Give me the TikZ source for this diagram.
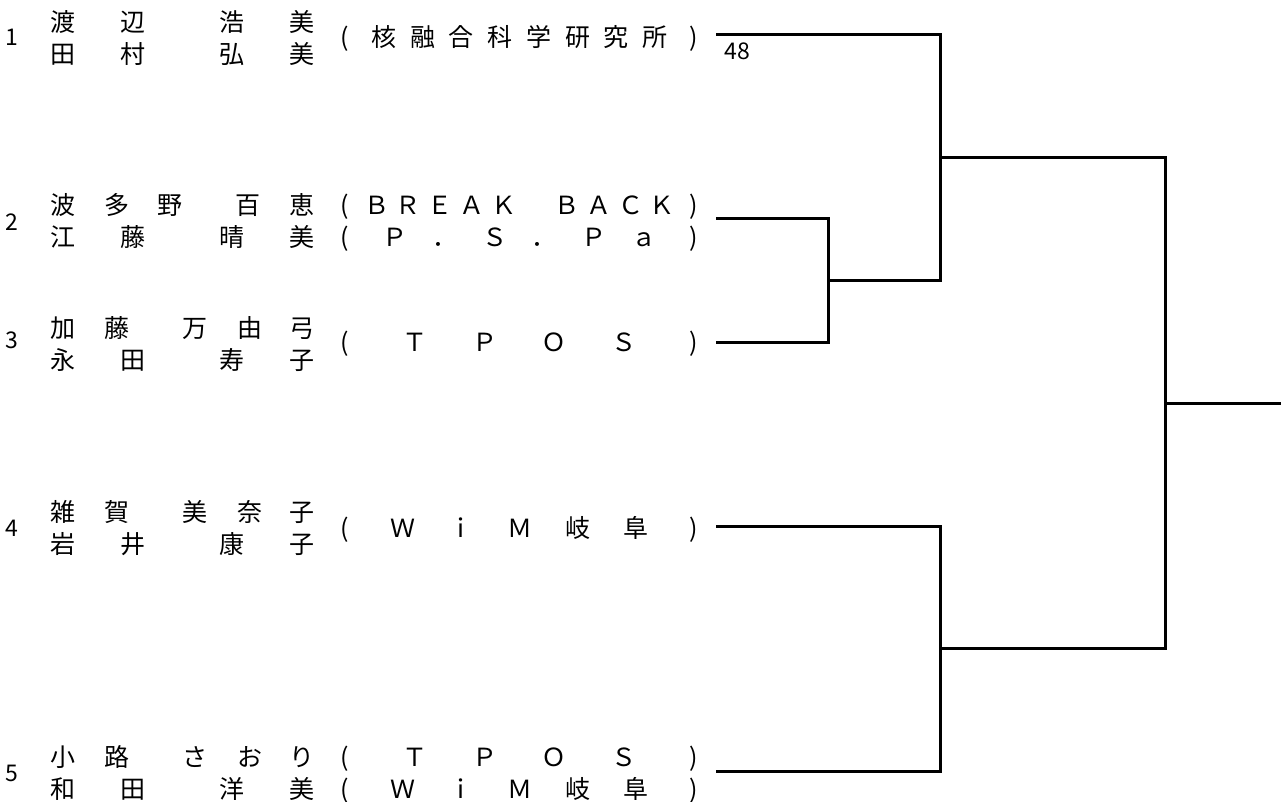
\documentclass[tikz,border=0pt]{standalone}
\usepackage{fontspec}
\setmainfont{Noto Sans CJK JP}
\newcommand\sheetfont{\fontsize{25}{25}\selectfont}
\newcommand\numfont{\fontsize{23}{23}\selectfont}
\def\orgblank{}
\def\lp{(}
\def\rp{)}
% one line of a name, each character at its own x
\newcommand\nameline[3]{%
  \foreach \ch/\x [count=\i] in {#3}
    \node[glyph] (#1-\i) at (\x,#2) {\ch};}
% one line of a club, spread evenly between the brackets
\newcommand\orgline[3]{%
  \foreach \ch [count=\i] in {#3} {\xdef\orgn{\i}}%
  \foreach \ch [count=\i] in {#3} {%
    \ifx\ch\orgblank\else
      \node[glyph] (#1-\i) at ({345+(\i-1)*349/(\orgn-1)},#2) {\ch};
    \fi}}

\begin{document}
\begin{tikzpicture}[x=1pt,y=-1pt,
    glyph/.style={inner sep=0pt,anchor=base,yshift=-9.5pt,font=\sheetfont},
    num/.style={inner sep=0pt,anchor=base,yshift=-8.4pt,font=\numfont},
    bracket/.style={line width=3pt}]
  \useasboundingbox (0,0) rectangle (1281,802);

  % entrants
  \node[num] (no1) at (12,37) {1};
  \nameline{n1a}{22}{渡/63,辺/133,浩/232,美/302}
  \nameline{n1b}{54}{田/63,村/133,弘/232,美/302}
  \orgline{o1}{37}{\lp,核,融,合,科,学,研,究,所,\rp}

  \node[num] (no2) at (12,222) {2};
  \nameline{n2a}{205}{波/63,多/117,野/170,百/248,恵/302}
  \nameline{n2b}{237}{江/63,藤/133,晴/232,美/302}
  \orgline{o2a}{205}{\lp,Ｂ,Ｒ,Ｅ,Ａ,Ｋ,{},Ｂ,Ａ,Ｃ,Ｋ,\rp}
  \orgline{o2b}{237}{\lp,Ｐ,．,Ｓ,．,Ｐ,ａ,\rp}

  \node[num] (no3) at (12,340) {3};
  \nameline{n3a}{328}{加/63,藤/117,万/195,由/250,弓/302}
  \nameline{n3b}{360}{永/63,田/133,寿/232,子/302}
  \orgline{o3}{342}{\lp,Ｔ,Ｐ,Ｏ,Ｓ,\rp}

  \node[num] (no4) at (12,528) {4};
  \nameline{n4a}{512}{雑/63,賀/117,美/195,奈/250,子/302}
  \nameline{n4b}{544}{岩/63,井/133,康/232,子/302}
  \orgline{o4}{528}{\lp,Ｗ,ｉ,Ｍ,岐,阜,\rp}

  \node[num] (no5) at (12,773) {5};
  \nameline{n5a}{757}{小/63,路/117,さ/195,お/250,り/302}
  \nameline{n5b}{789}{和/63,田/133,洋/232,美/302}
  \orgline{o5a}{757}{\lp,Ｔ,Ｐ,Ｏ,Ｓ,\rp}
  \orgline{o5b}{789}{\lp,Ｗ,ｉ,Ｍ,岐,阜,\rp}

  % bracket
  \coordinate (e1) at (716,35);
  \coordinate (e2) at (716,219);
  \coordinate (e3) at (716,342);
  \coordinate (e4) at (716,526);
  \coordinate (e5) at (716,771);
  \coordinate (m23) at (828,280.5);
  \coordinate (m123) at (940,157.75);
  \coordinate (m45) at (940,648.5);
  \coordinate (m-final) at (1165,403.1);
  \coordinate (champ) at (1281,403.1);

  \draw[bracket] (e2) -| (m23) |- (e3);
  \draw[bracket] (e1) -| (m123) |- (m23);
  \draw[bracket] (e4) -| (m45) |- (e5);
  \draw[bracket] (m123) -| (m-final) |- (m45);
  \draw[bracket] (m-final) -- (champ);

  \node[num] (score1) at (737,51) {48};
\end{tikzpicture}
\end{document}
